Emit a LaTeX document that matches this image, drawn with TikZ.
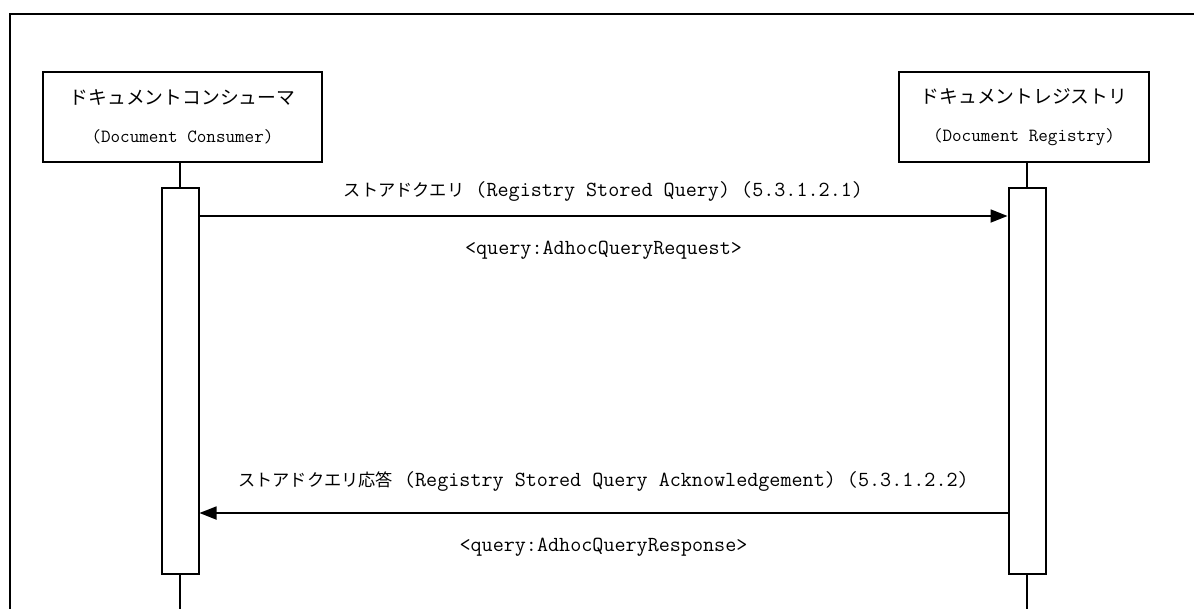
\documentclass[tikz,border=0pt]{standalone}
\usepackage{fontspec}
\usepackage{tikz}
\usetikzlibrary{arrows.meta,positioning,calc}
\newfontfamily\jpbox[Scale=1.01]{Noto Sans CJK JP}
\newfontfamily\jpmsg[Scale=0.8]{Noto Sans CJK JP}
\tikzset{
  actor/.style={draw, line width=2pt, rectangle, align=center, inner sep=0pt,
                font=\ttfamily\fontsize{18.6}{38}\selectfont},
  activ/.style={draw, line width=2pt, rectangle, fill=white, inner sep=0pt,
                minimum width=37pt, minimum height=386pt},
  life/.style={line width=2pt},
  msg/.style={-{Triangle[length=17pt,width=13pt]}, line width=1.8pt},
  lbl/.style={font=\ttfamily\fontsize{21.5}{24}\selectfont, inner sep=0pt}
}
\begin{document}
\begin{tikzpicture}[x=1pt, y=-1pt]
  \useasboundingbox (0,0) rectangle (1194,608);
  \clip (0,0) rectangle (1194,608);
  % frame
  \draw[line width=2pt] (1210,14) -- (9.5,14) -- (9.5,620);
  % actors
  \node[actor, minimum width=279pt, minimum height=90pt] (cons) at (182.5,117)
    {{\jpbox ドキュメントコンシューマ}\\(Document Consumer)};
  \node[actor, minimum width=250pt, minimum height=90pt] (reg) at (1024,117)
    {{\jpbox ドキュメントレジストリ}\\(Document Registry)};
  % activations
  \node[activ] (acons) at (180,381) {};
  \node[activ] (areg) at (1027,381) {};
  \coordinate (endc) at (acons.south |- 0,620);
  \coordinate (endr) at (areg.south |- 0,620);
  \draw[life] (acons.north) -- (acons.north |- cons.south);
  \draw[life] (areg.north) -- (areg.north |- reg.south);
  \draw[life] (acons.south) -- (endc);
  \draw[life] (areg.south) -- (endr);
  % messages
  \coordinate (q1) at ($(acons.north east)+(0,29)$);
  \coordinate (q2) at ($(acons.south east)+(0,-62)$);
  \draw[msg] (q1) -- (q1 -| areg.west)
    node[lbl, midway, above=14pt] {{\jpmsg ストアドクエリ} (Registry Stored Query) (5.3.1.2.1)}
    node[lbl, midway, below=24pt] {<query:AdhocQueryRequest>};
  \draw[msg] (q2 -| areg.west) -- (q2)
    node[lbl, midway, above=21pt] {{\jpmsg ストアドクエリ応答} (Registry Stored Query Acknowledgement) (5.3.1.2.2)}
    node[lbl, midway, below=24pt] {<query:AdhocQueryResponse>};
\end{tikzpicture}
\end{document}
